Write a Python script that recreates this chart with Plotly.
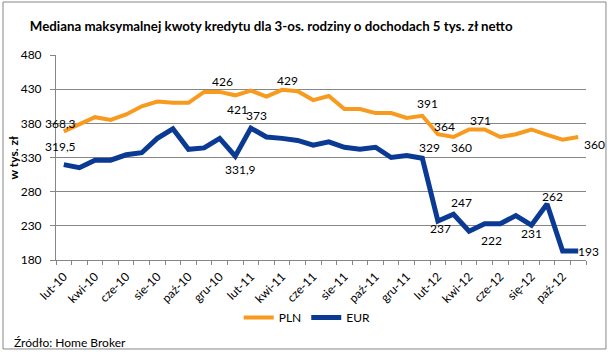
import plotly.graph_objects as go

months = ["lut-10","mar-10","kwi-10","maj-10","cze-10","lip-10","sie-10","wrz-10","paź-10","lis-10","gru-10","sty-11",
          "lut-11","mar-11","kwi-11","maj-11","cze-11","lip-11","sie-11","wrz-11","paź-11","lis-11","gru-11","sty-12",
          "lut-12","mar-12","kwi-12","maj-12","cze-12","lip-12","się-12","wrz-12","paź-12","lis-12"]

pln = [368.3, 379, 389, 385, 393, 405, 412, 410, 410, 426, 426, 421,
       428, 419, 429, 427, 414, 420, 401, 401, 395, 395, 388, 391,
       364, 360, 371, 371, 360, 364, 371, 363, 356, 360]

eur = [319.5, 315, 326, 326, 334, 337, 358, 372, 342, 344, 358, 331.9,
       373, 360, 358, 355, 348, 353, 345, 342, 345, 330, 333, 329,
       237, 247, 222, 233, 233, 245, 231, 262, 193, 193]

y_ticks = [180, 230, 280, 330, 380, 430, 480]

# labelled points: (index, xshift, yshift, xanchor)
pln_labels = [(0, -3, 8, "center"), (10, 3, 10, "center"), (11, 2, -14, "center"),
              (14, 5, 9, "center"), (23, 5, 12, "center"), (24, 7, 8, "center"),
              (25, 8, -10, "center"), (27, -4, 9, "center"), (33, 4, -7, "left")]
eur_labels = [(0, -3, 18, "center"), (11, 5, -13, "center"), (12, 6, 13, "center"),
              (23, 7, 11, "center"), (24, 3, -7, "center"), (25, 8, 12, "center"),
              (26, 22, -9, "center"), (30, 0, -8, "center"), (31, 5, 7, "center"),
              (33, -2, 0, "left")]

ORANGE = "#F79A1E"
BLUE = "#0B3A94"
GRID = "#868686"
FONT = "Lato"

def fmt(v):
    if abs(v - round(v)) < 1e-9:
        return str(int(round(v)))
    return ("%.1f" % v).replace(".", ",")

xs = list(range(len(months)))

fig = go.Figure()
fig.add_trace(go.Scatter(x=xs, y=pln, mode="lines", name="PLN",
                         line=dict(color=ORANGE, width=4)))
fig.add_trace(go.Scatter(x=xs, y=eur, mode="lines", name="EUR",
                         line=dict(color=BLUE, width=5)))

annotations = []
for series, labels in ((pln, pln_labels), (eur, eur_labels)):
    for i, dx, dy, xa in labels:
        annotations.append(dict(x=i, y=series[i], xref="x", yref="y", text=fmt(series[i]),
                                showarrow=False, xshift=dx, yshift=dy, xanchor=xa, yanchor="middle",
                                font=dict(family=FONT, size=12, color="black")))

annotations.append(dict(x=-0.081, y=0.5, xref="paper", yref="paper", text="<b>w tys. zł</b>",
                        textangle=-90, showarrow=False, xanchor="center", yanchor="middle",
                        font=dict(family=FONT, size=12, color="black")))
annotations.append(dict(x=-0.083, y=-0.40, xref="paper", yref="paper", text="Źródło: Home Broker",
                        showarrow=False, xanchor="left", yanchor="middle",
                        font=dict(family=FONT, size=12, color="black")))

fig.update_layout(
    width=610, height=352,
    margin=dict(l=56, r=24, t=55, b=92),
    paper_bgcolor="white", plot_bgcolor="white",
    title=dict(text="<b>Mediana maksymalnej kwoty kredytu dla 3-os. rodziny o dochodach 5 tys. zł netto</b>",
               x=0.406, xref="paper", xanchor="center", y=1 - 26 / 352, yanchor="middle",
               font=dict(family=FONT, size=13.3, color="black")),
    font=dict(family=FONT, size=12, color="black"),
    showlegend=True,
    legend=dict(orientation="h", x=0.474, y=-0.28, xanchor="center", yanchor="middle",
                font=dict(family=FONT, size=12, color="black"), bgcolor="rgba(0,0,0,0)",
                itemwidth=30, tracegroupgap=0),
    annotations=annotations,
    shapes=[dict(type="rect", xref="paper", yref="paper", x0=-0.1, x1=1.0377, y0=-0.434, y1=1.2585,
                 line=dict(color=GRID, width=1), fillcolor="rgba(0,0,0,0)", layer="below")],
)

fig.update_xaxes(range=[-0.5, len(months) - 0.5], tickmode="array",
                 tickvals=xs[::2], ticktext=months[::2], tickangle=-45,
                 ticks="outside", ticklen=4, tickcolor="rgba(0,0,0,0)",
                 showgrid=False, zeroline=False, showline=True, linecolor=GRID, linewidth=1,
                 minor=dict(tickvals=[i - 0.5 for i in range(len(months) + 1)], ticks="outside",
                            ticklen=4, tickcolor=GRID, showgrid=False),
                 tickfont=dict(family=FONT, size=12, color="black"))

fig.update_yaxes(range=[180, 480], tickmode="array", tickvals=y_ticks,
                 ticks="outside", ticklen=5, tickcolor=GRID,
                 showgrid=True, gridcolor=GRID, gridwidth=1, zeroline=False,
                 showline=True, linecolor=GRID, linewidth=1, ticklabelstandoff=6,
                 tickfont=dict(family=FONT, size=12, color="black"))

fig.write_html("out.html")
